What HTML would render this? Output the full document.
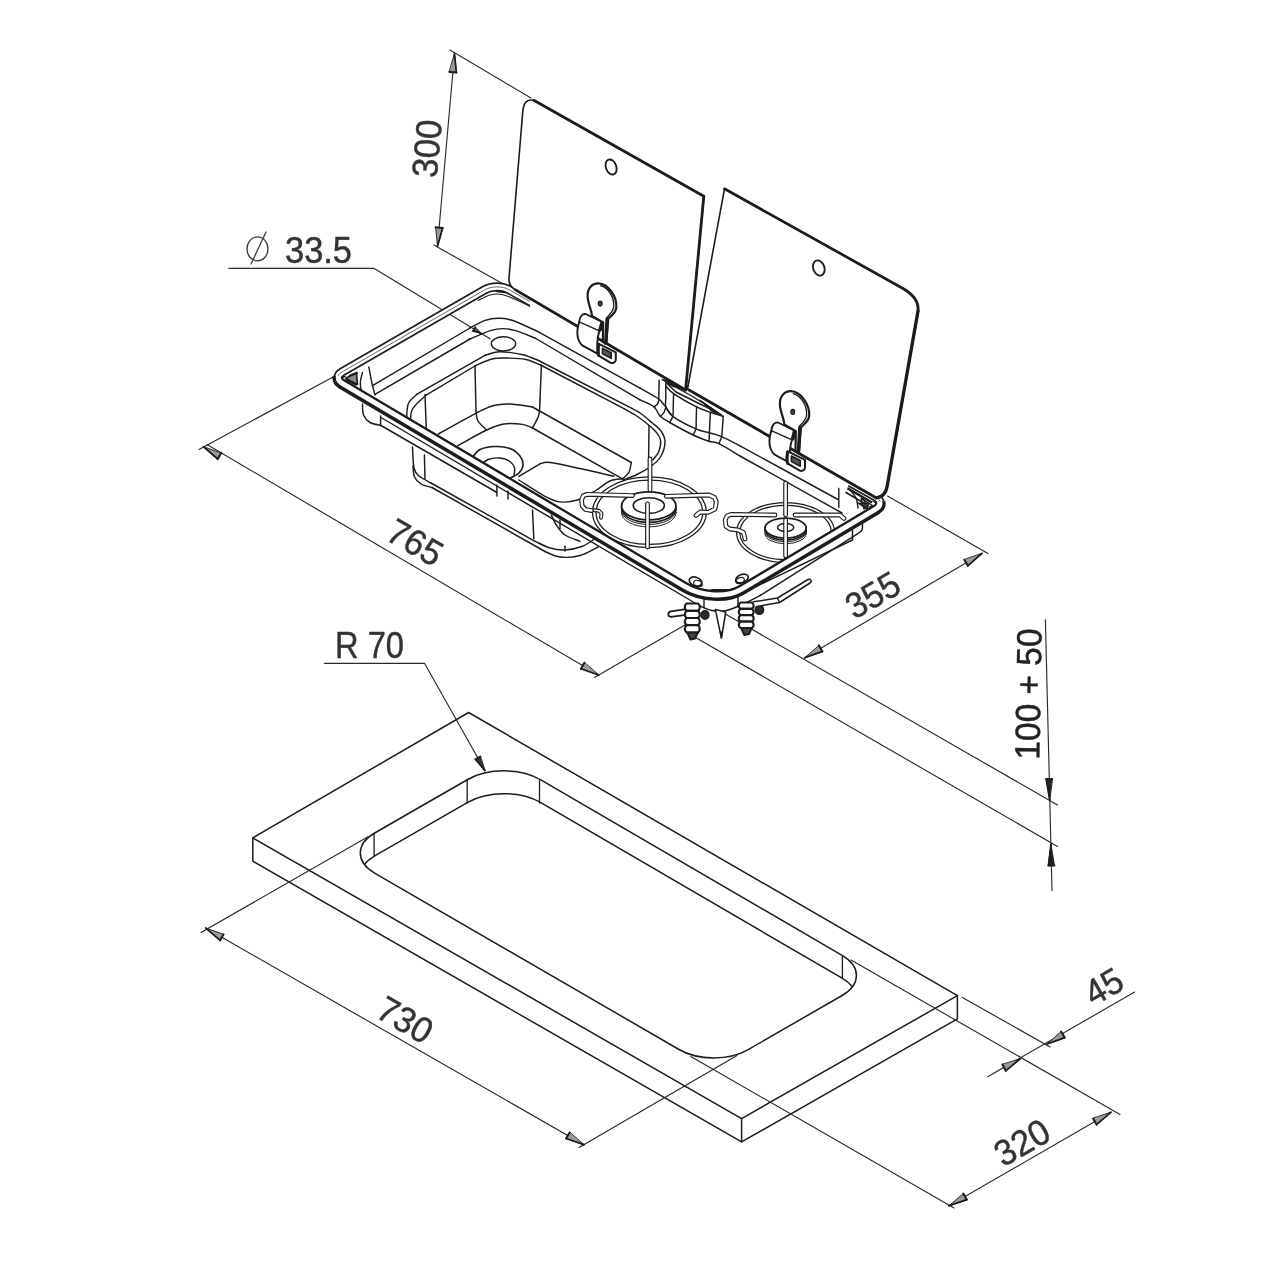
<!DOCTYPE html>
<html><head><meta charset="utf-8"><title>Sink hob dimensions</title>
<style>
html,body{margin:0;padding:0;background:#fff;}
body{width:1280px;height:1280px;overflow:hidden;font-family:"Liberation Sans",sans-serif;}
svg{display:block;font-family:"Liberation Sans",sans-serif;}
</style></head><body>
<svg width="1280" height="1280" viewBox="0 0 1280 1280" stroke-linecap="round" stroke-linejoin="round">
<rect width="1280" height="1280" fill="#fff"/>
<filter id="gaa" x="-20%" y="-20%" width="140%" height="140%"><feOffset dx="0" dy="0"/></filter>
<path d="M252.8,837.9 L468.6,712.5 L957.4,995.6 L741.6,1118.6 Z" stroke="#1c1c1c" stroke-width="1.5" fill="none" />
<path d="M252.8,837.9 L252.8,861.2 L741.6,1141.9 L957.4,1018.9 L957.4,995.6" stroke="#1c1c1c" stroke-width="1.5" fill="none" />
<line x1="741.6" y1="1118.6" x2="741.6" y2="1141.9" stroke="#1c1c1c" stroke-width="1.5" />
<clipPath id="cut">
<path d="M374.6,873.1 C355.5,862.0 355.5,844.1 374.7,833.0 L467.7,779.5 C487.8,767.9 520.3,768.0 540.4,779.6 L842.1,955.4 C861.2,966.5 861.2,984.4 842.1,995.5 L748.2,1049.6 C729.1,1060.7 698.1,1060.6 679.0,1049.5 Z" stroke="none" stroke-width="0" fill="#000" />
</clipPath>
<path d="M374.6,873.1 C355.5,862.0 355.5,844.1 374.7,833.0 L467.7,779.5 C487.8,767.9 520.3,768.0 540.4,779.6 L842.1,955.4 C861.2,966.5 861.2,984.4 842.1,995.5 L748.2,1049.6 C729.1,1060.7 698.1,1060.6 679.0,1049.5 Z" stroke="#1c1c1c" stroke-width="1.5" fill="none" />
<g clip-path="url(#cut)">
<path d="M374.6,895.9 C355.5,884.8 355.5,866.9 374.7,855.8 L467.7,802.3 C487.8,790.7 520.3,790.8 540.4,802.4 L842.1,978.2 C861.2,989.3 861.2,1007.2 842.1,1018.3 L748.2,1072.4 C729.1,1083.5 698.1,1083.4 679.0,1072.3 Z" stroke="#1c1c1c" stroke-width="1.5" fill="none" />
</g>
<line x1="374.1" y1="833.4" x2="374.1" y2="856.0" stroke="#1c1c1c" stroke-width="1.3" />
<line x1="467.2" y1="779.5" x2="467.2" y2="802.9" stroke="#1c1c1c" stroke-width="1.3" />
<line x1="539.5" y1="780.5" x2="539.5" y2="802.9" stroke="#1c1c1c" stroke-width="1.3" />
<line x1="842.4" y1="955.9" x2="842.4" y2="978.2" stroke="#1c1c1c" stroke-width="1.3" />
<line x1="368.0" y1="836.8" x2="201.0" y2="932.5" stroke="#2a2a2a" stroke-width="1.15" />
<line x1="737.0" y1="1055.5" x2="579.0" y2="1147.5" stroke="#2a2a2a" stroke-width="1.15" />
<line x1="205.8" y1="928.1" x2="583.9" y2="1144.7" stroke="#2a2a2a" stroke-width="1.15" />
<polygon points="205.8,928.1 223.6,934.3 220.1,940.3" fill="#9a9a9a" stroke="#1c1c1c" stroke-width="0.9"/>
<line x1="223.6" y1="934.3" x2="220.1" y2="940.3" stroke="#1c1c1c" stroke-width="2.0"/>
<line x1="220.1" y1="940.3" x2="205.8" y2="928.1" stroke="#1c1c1c" stroke-width="1.7"/>
<polygon points="583.9,1144.7 566.1,1138.5 569.6,1132.5" fill="#9a9a9a" stroke="#1c1c1c" stroke-width="0.9"/>
<line x1="566.1" y1="1138.5" x2="569.6" y2="1132.5" stroke="#1c1c1c" stroke-width="2.0"/>
<line x1="566.1" y1="1138.5" x2="583.9" y2="1144.7" stroke="#1c1c1c" stroke-width="1.7"/>
<g filter="url(#gaa)"><text x="405.3" y="1032.4" font-size="36" text-anchor="middle" fill="#333" transform="rotate(30 405.3 1019.5)" textLength="57.5" lengthAdjust="spacingAndGlyphs" stroke="#333" stroke-width="0.45">730</text></g>
<line x1="690.8" y1="1056.4" x2="954.0" y2="1208.0" stroke="#2a2a2a" stroke-width="1.15" />
<line x1="851.0" y1="960.0" x2="1120.0" y2="1114.5" stroke="#2a2a2a" stroke-width="1.15" />
<line x1="949.0" y1="1205.8" x2="1110.9" y2="1112.3" stroke="#2a2a2a" stroke-width="1.15" />
<polygon points="949.0,1205.8 963.3,1193.5 966.8,1199.6" fill="#9a9a9a" stroke="#1c1c1c" stroke-width="0.9"/>
<line x1="963.3" y1="1193.5" x2="966.8" y2="1199.6" stroke="#1c1c1c" stroke-width="2.0"/>
<line x1="966.8" y1="1199.6" x2="949.0" y2="1205.8" stroke="#1c1c1c" stroke-width="1.7"/>
<polygon points="1110.9,1112.3 1096.6,1124.6 1093.1,1118.5" fill="#9a9a9a" stroke="#1c1c1c" stroke-width="0.9"/>
<line x1="1096.6" y1="1124.6" x2="1093.1" y2="1118.5" stroke="#1c1c1c" stroke-width="2.0"/>
<line x1="1096.6" y1="1124.6" x2="1110.9" y2="1112.3" stroke="#1c1c1c" stroke-width="1.7"/>
<g filter="url(#gaa)"><text x="1021.8" y="1154.9" font-size="36" text-anchor="middle" fill="#333" transform="rotate(-30 1021.8 1142.0)" textLength="57.5" lengthAdjust="spacingAndGlyphs" stroke="#333" stroke-width="0.45">320</text></g>
<line x1="962.4" y1="997.4" x2="1050.0" y2="1047.0" stroke="#2a2a2a" stroke-width="1.15" />
<line x1="987.7" y1="1076.7" x2="1134.6" y2="992.0" stroke="#2a2a2a" stroke-width="1.15" />
<polygon points="1020.3,1058.8 1005.8,1070.8 1002.4,1064.6" fill="#9a9a9a" stroke="#1c1c1c" stroke-width="0.9"/>
<line x1="1005.8" y1="1070.8" x2="1002.4" y2="1064.6" stroke="#1c1c1c" stroke-width="2.0"/>
<line x1="1005.8" y1="1070.8" x2="1020.3" y2="1058.8" stroke="#1c1c1c" stroke-width="1.7"/>
<polygon points="1047.0,1044.0 1061.1,1031.5 1064.7,1037.6" fill="#9a9a9a" stroke="#1c1c1c" stroke-width="0.9"/>
<line x1="1061.1" y1="1031.5" x2="1064.7" y2="1037.6" stroke="#1c1c1c" stroke-width="2.0"/>
<line x1="1064.7" y1="1037.6" x2="1047.0" y2="1044.0" stroke="#1c1c1c" stroke-width="1.7"/>
<g filter="url(#gaa)"><text x="1103.5" y="999.0" font-size="36" text-anchor="middle" fill="#333" transform="rotate(-30 1103.5 986.1)" textLength="38" lengthAdjust="spacingAndGlyphs" stroke="#333" stroke-width="0.45">45</text></g>
<path d="M324.4,663.3 L424.5,663.3 L485.0,770.6" stroke="#2a2a2a" stroke-width="1.15" fill="none" />
<polygon points="485.0,770.6 475.4,759.3 480.3,756.6" fill="#333" stroke="#1c1c1c" stroke-width="0.9"/>
<line x1="475.4" y1="759.3" x2="480.3" y2="756.6" stroke="#1c1c1c" stroke-width="2.0"/>
<line x1="475.4" y1="759.3" x2="485.0" y2="770.6" stroke="#1c1c1c" stroke-width="1.7"/>
<g filter="url(#gaa)"><text x="369.5" y="657.9" font-size="36" text-anchor="middle" fill="#333" textLength="69" lengthAdjust="spacingAndGlyphs" stroke="#333" stroke-width="0.45">R 70</text></g>
<line x1="1045.4" y1="619.7" x2="1052.0" y2="890.4" stroke="#2a2a2a" stroke-width="1.15" />
<line x1="725.0" y1="613.8" x2="1057.5" y2="805.0" stroke="#2a2a2a" stroke-width="1.15" />
<line x1="693.0" y1="636.0" x2="1057.5" y2="846.5" stroke="#2a2a2a" stroke-width="1.15" />
<polygon points="1049.7,800.0 1046.2,779.1 1052.2,778.9" fill="#222" stroke="#1c1c1c" stroke-width="0.9"/>
<line x1="1046.2" y1="779.1" x2="1052.2" y2="778.9" stroke="#1c1c1c" stroke-width="2.0"/>
<line x1="1046.2" y1="779.1" x2="1049.7" y2="800.0" stroke="#1c1c1c" stroke-width="1.7"/>
<polygon points="1051.0,844.5 1054.5,865.4 1048.5,865.6" fill="#222" stroke="#1c1c1c" stroke-width="0.9"/>
<line x1="1054.5" y1="865.4" x2="1048.5" y2="865.6" stroke="#1c1c1c" stroke-width="2.0"/>
<line x1="1048.5" y1="865.6" x2="1051.0" y2="844.5" stroke="#1c1c1c" stroke-width="1.7"/>
<g filter="url(#gaa)"><text x="1028.0" y="706.5" font-size="35" text-anchor="middle" fill="#222" transform="rotate(-89 1028.0 694.0)" textLength="131" lengthAdjust="spacingAndGlyphs" stroke="#222" stroke-width="0.45">100 + 50</text></g>
<line x1="207.0" y1="444.5" x2="598.7" y2="675.0" stroke="#2a2a2a" stroke-width="1.15" />
<line x1="199.0" y1="449.5" x2="334.0" y2="376.5" stroke="#2a2a2a" stroke-width="1.15" />
<line x1="594.5" y1="677.5" x2="690.0" y2="622.0" stroke="#2a2a2a" stroke-width="1.15" />
<polygon points="203.4,446.7 221.2,452.9 217.7,459.0" fill="#9a9a9a" stroke="#1c1c1c" stroke-width="0.9"/>
<line x1="221.2" y1="452.9" x2="217.7" y2="459.0" stroke="#1c1c1c" stroke-width="2.0"/>
<line x1="217.7" y1="459.0" x2="203.4" y2="446.7" stroke="#1c1c1c" stroke-width="1.7"/>
<polygon points="598.7,675.0 580.9,668.8 584.4,662.7" fill="#9a9a9a" stroke="#1c1c1c" stroke-width="0.9"/>
<line x1="580.9" y1="668.8" x2="584.4" y2="662.7" stroke="#1c1c1c" stroke-width="2.0"/>
<line x1="580.9" y1="668.8" x2="598.7" y2="675.0" stroke="#1c1c1c" stroke-width="1.7"/>
<g filter="url(#gaa)"><text x="415.4" y="554.9" font-size="36" text-anchor="middle" fill="#333" transform="rotate(30 415.4 542.0)" textLength="57.5" lengthAdjust="spacingAndGlyphs" stroke="#333" stroke-width="0.45">765</text></g>
<line x1="887.5" y1="496.0" x2="988.0" y2="553.5" stroke="#2a2a2a" stroke-width="1.15" />
<line x1="982.0" y1="553.4" x2="804.7" y2="657.8" stroke="#2a2a2a" stroke-width="1.15" />
<polygon points="982.0,553.4 967.8,565.8 964.3,559.8" fill="#9a9a9a" stroke="#1c1c1c" stroke-width="0.9"/>
<line x1="967.8" y1="565.8" x2="964.3" y2="559.8" stroke="#1c1c1c" stroke-width="2.0"/>
<line x1="967.8" y1="565.8" x2="982.0" y2="553.4" stroke="#1c1c1c" stroke-width="1.7"/>
<polygon points="804.7,657.8 818.9,645.4 822.4,651.4" fill="#9a9a9a" stroke="#1c1c1c" stroke-width="0.9"/>
<line x1="818.9" y1="645.4" x2="822.4" y2="651.4" stroke="#1c1c1c" stroke-width="2.0"/>
<line x1="822.4" y1="651.4" x2="804.7" y2="657.8" stroke="#1c1c1c" stroke-width="1.7"/>
<g filter="url(#gaa)"><text x="872.5" y="607.5" font-size="36" text-anchor="middle" fill="#333" transform="rotate(-30 872.5 594.6)" textLength="56.5" lengthAdjust="spacingAndGlyphs" stroke="#333" stroke-width="0.45">355</text></g>
<line x1="454.5" y1="53.8" x2="437.5" y2="246.0" stroke="#2a2a2a" stroke-width="1.15" />
<line x1="450.0" y1="50.0" x2="531.0" y2="98.0" stroke="#2a2a2a" stroke-width="1.15" />
<line x1="433.8" y1="245.0" x2="505.0" y2="285.0" stroke="#2a2a2a" stroke-width="1.15" />
<polygon points="454.5,53.8 456.4,72.5 449.4,71.9" fill="#9a9a9a" stroke="#1c1c1c" stroke-width="0.9"/>
<line x1="456.4" y1="72.5" x2="449.4" y2="71.9" stroke="#1c1c1c" stroke-width="2.0"/>
<line x1="456.4" y1="72.5" x2="454.5" y2="53.8" stroke="#1c1c1c" stroke-width="1.7"/>
<polygon points="437.5,246.0 435.6,227.3 442.6,227.9" fill="#9a9a9a" stroke="#1c1c1c" stroke-width="0.9"/>
<line x1="435.6" y1="227.3" x2="442.6" y2="227.9" stroke="#1c1c1c" stroke-width="2.0"/>
<line x1="442.6" y1="227.9" x2="437.5" y2="246.0" stroke="#1c1c1c" stroke-width="1.7"/>
<g filter="url(#gaa)"><text x="426.5" y="161.4" font-size="36" text-anchor="middle" fill="#333" transform="rotate(-85 426.5 148.5)" textLength="58" lengthAdjust="spacingAndGlyphs" stroke="#333" stroke-width="0.45">300</text></g>
<path d="M228.8,268.3 L373.8,268.3 L490.0,338.8" stroke="#2a2a2a" stroke-width="1.15" fill="none" />
<polygon points="481.0,333.3 473.1,330.9 475.2,327.4" fill="#555" stroke="#1c1c1c" stroke-width="0.9"/>
<line x1="473.1" y1="330.9" x2="475.2" y2="327.4" stroke="#1c1c1c" stroke-width="2.0"/>
<line x1="473.1" y1="330.9" x2="481.0" y2="333.3" stroke="#1c1c1c" stroke-width="1.7"/>
<ellipse cx="257.5" cy="248.8" rx="10.5" ry="12.0" stroke="#3a3a3a" stroke-width="1.3" fill="none"/>
<line x1="251.0" y1="264.0" x2="266.0" y2="232.0" stroke="#3a3a3a" stroke-width="1.3" />
<g filter="url(#gaa)"><text x="318.5" y="262.7" font-size="37" text-anchor="middle" fill="#333" textLength="67" lengthAdjust="spacingAndGlyphs" stroke="#333" stroke-width="0.45">33.5</text></g>
<line x1="381.0" y1="417.5" x2="700.0" y2="606.0" stroke="#1c1c1c" stroke-width="1.45" />
<path d="M362.5,404.0 C362.7,405.8 362.2,411.9 363.5,415.0 C364.8,418.1 367.1,420.8 370.0,422.5 C372.9,424.2 379.2,425.0 381.0,425.5 " stroke="#1c1c1c" stroke-width="1.45" fill="none" />
<line x1="380.6" y1="416.0" x2="380.6" y2="425.0" stroke="#1c1c1c" stroke-width="1.45" />
<line x1="381.0" y1="425.5" x2="497.0" y2="492.5" stroke="#1c1c1c" stroke-width="1.45" />
<path d="M412.5,447.0 C412.8,450.5 412.9,463.2 414.0,468.0 C415.1,472.8 416.2,473.5 419.0,476.0 C421.8,478.5 429.0,481.8 431.0,483.0 " stroke="#1c1c1c" stroke-width="1.45" fill="none" />
<line x1="424.4" y1="455.0" x2="425.0" y2="479.0" stroke="#1c1c1c" stroke-width="1.45" />
<line x1="431.0" y1="483.0" x2="535.0" y2="541.3" stroke="#1c1c1c" stroke-width="1.45" />
<line x1="432.0" y1="487.5" x2="545.0" y2="551.5" stroke="#1c1c1c" stroke-width="1.45" />
<path d="M413.0,466.0 C413.2,467.8 413.2,474.0 414.5,477.0 C415.8,480.0 418.1,482.2 421.0,484.0 C423.9,485.8 430.2,486.9 432.0,487.5 " stroke="#1c1c1c" stroke-width="1.45" fill="none" />
<path d="M535.0,541.3 C537.5,542.4 545.0,546.5 550.0,548.0 C555.0,549.5 559.6,550.3 565.0,550.0 C570.4,549.7 577.3,548.3 582.5,546.3 C587.7,544.3 593.8,539.4 596.0,538.0 " stroke="#1c1c1c" stroke-width="1.45" fill="none" />
<path d="M545.0,551.5 C547.5,552.4 554.2,556.3 560.0,557.0 C565.8,557.7 573.7,557.2 580.0,555.5 C586.3,553.8 595.0,548.4 598.0,547.0 " stroke="#1c1c1c" stroke-width="1.45" fill="none" />
<line x1="532.5" y1="510.0" x2="533.8" y2="538.8" stroke="#1c1c1c" stroke-width="1.45" />
<path d="M551.3,515.0 C552.1,516.7 554.0,521.7 556.3,525.0 C558.6,528.3 561.0,532.3 565.0,535.0 C569.0,537.7 577.5,540.2 580.0,541.3 " stroke="#1c1c1c" stroke-width="1.45" fill="none" />
<line x1="560.0" y1="520.0" x2="560.0" y2="529.0" stroke="#1c1c1c" stroke-width="1.45" />
<line x1="565.0" y1="546.3" x2="565.0" y2="551.0" stroke="#1c1c1c" stroke-width="1.45" />
<line x1="496.9" y1="485.0" x2="496.9" y2="496.0" stroke="#1c1c1c" stroke-width="1.45" />
<line x1="508.0" y1="491.0" x2="508.0" y2="499.0" stroke="#1c1c1c" stroke-width="1.45" />
<path d="M700.0,606.0 C702.0,606.8 708.0,609.7 712.0,610.5 C716.0,611.3 719.3,611.8 724.0,611.0 C728.7,610.2 733.8,608.2 740.0,605.5 C746.2,602.8 757.5,596.8 761.0,595.0 " stroke="#1c1c1c" stroke-width="1.45" fill="none" />
<line x1="704.0" y1="598.0" x2="704.0" y2="607.5" stroke="#1c1c1c" stroke-width="1.45" />
<line x1="738.0" y1="597.0" x2="738.0" y2="606.0" stroke="#1c1c1c" stroke-width="1.45" />
<line x1="761.0" y1="595.0" x2="857.5" y2="533.8" stroke="#1c1c1c" stroke-width="1.45" />
<path d="M857.5,533.8 C858.2,533.2 861.2,532.1 862.0,530.0 C862.8,527.9 862.4,522.5 862.5,521.0 " stroke="#1c1c1c" stroke-width="1.45" fill="none" />
<line x1="745.0" y1="592.0" x2="852.5" y2="540.0" stroke="#1c1c1c" stroke-width="1.45" />
<line x1="852.5" y1="530.0" x2="852.5" y2="540.0" stroke="#1c1c1c" stroke-width="1.45" />
<line x1="372.5" y1="385.6" x2="470.0" y2="328.0" stroke="#1c1c1c" stroke-width="1.45" />
<line x1="375.0" y1="394.3" x2="470.0" y2="339.0" stroke="#1c1c1c" stroke-width="1.45" />
<path d="M368.8,366.9 C369.1,368.4 370.0,373.3 370.5,376.0 C371.0,378.7 371.1,379.8 371.9,383.0 C372.6,386.2 374.5,393.0 375.0,395.0 " stroke="#1c1c1c" stroke-width="1.45" fill="none" />
<path d="M362.5,372.5 C362.2,373.9 360.7,378.1 360.5,381.0 C360.3,383.9 360.4,387.8 361.3,390.0 C362.2,392.2 365.2,393.3 366.0,394.0 " stroke="#1c1c1c" stroke-width="1.45" fill="none" />
<path d="M470.0,328.0 C472.5,326.7 480.5,322.0 485.2,320.4 C489.9,318.8 493.5,318.3 498.0,318.3 C502.5,318.3 505.4,318.1 512.0,320.3 C518.6,322.5 533.2,329.5 537.5,331.3 " stroke="#1c1c1c" stroke-width="1.45" fill="none" />
<line x1="537.5" y1="331.3" x2="640.0" y2="388.1" stroke="#1c1c1c" stroke-width="1.45" />
<path d="M470.0,339.0 C473.4,337.6 484.8,332.3 490.3,330.6 C495.8,328.9 498.8,328.6 503.0,328.6 C507.2,328.6 510.4,329.0 515.7,330.6 C521.0,332.2 531.8,336.8 535.0,338.0 " stroke="#1c1c1c" stroke-width="1.45" fill="none" />
<line x1="535.0" y1="338.0" x2="640.0" y2="399.8" stroke="#1c1c1c" stroke-width="1.45" />
<ellipse cx="503.5" cy="343.8" rx="12.2" ry="7.1" stroke="#1c1c1c" stroke-width="1.45" fill="none"/>
<line x1="740.0" y1="445.9" x2="838.0" y2="499.5" stroke="#1c1c1c" stroke-width="1.45" />
<line x1="740.0" y1="456.0" x2="842.0" y2="513.0" stroke="#1c1c1c" stroke-width="1.45" />
<path d="M406.5,423.0 C406.8,419.8 406.4,408.9 408.2,404.0 C410.0,399.1 415.9,395.5 417.5,393.8 " stroke="#1c1c1c" stroke-width="1.45" fill="none" />
<line x1="417.5" y1="393.8" x2="485.0" y2="355.3" stroke="#1c1c1c" stroke-width="1.45" />
<path d="M485.0,355.3 C487.0,354.8 492.9,352.5 497.0,352.0 C501.1,351.5 504.9,351.9 509.4,352.4 C513.9,352.9 519.3,353.7 524.0,355.0 C528.7,356.3 535.2,359.2 537.5,360.0 " stroke="#1c1c1c" stroke-width="1.45" fill="none" />
<line x1="537.5" y1="360.0" x2="628.0" y2="406.3" stroke="#1c1c1c" stroke-width="1.45" />
<path d="M410.5,424.0 C410.8,421.5 409.8,413.9 412.5,409.0 C415.2,404.1 424.2,397.2 426.5,394.8 " stroke="#1c1c1c" stroke-width="1.45" fill="none" />
<line x1="426.5" y1="394.8" x2="475.0" y2="366.0" stroke="#1c1c1c" stroke-width="1.45" />
<path d="M475.0,366.0 C477.8,364.8 486.3,360.3 492.0,359.0 C497.7,357.7 503.7,358.0 509.4,358.1 C515.1,358.2 520.8,358.4 526.0,359.5 C531.2,360.6 538.2,364.1 540.6,365.0 " stroke="#1c1c1c" stroke-width="1.45" fill="none" />
<line x1="540.6" y1="365.0" x2="624.0" y2="408.7" stroke="#1c1c1c" stroke-width="1.45" />
<line x1="425.0" y1="394.5" x2="426.3" y2="430.0" stroke="#1c1c1c" stroke-width="1.45" />
<line x1="475.0" y1="366.0" x2="476.0" y2="411.0" stroke="#1c1c1c" stroke-width="1.45" />
<line x1="541.4" y1="365.0" x2="540.0" y2="400.0" stroke="#1c1c1c" stroke-width="1.45" />
<path d="M438.3,434.0 C444.7,430.5 467.4,417.6 476.6,412.8 C485.9,408.1 488.2,407.0 493.8,405.5 C499.4,404.0 503.6,403.8 510.0,404.0 C516.5,404.2 528.8,406.5 532.5,407.0 " stroke="#1c1c1c" stroke-width="1.45" fill="none" />
<line x1="532.5" y1="407.0" x2="631.3" y2="462.5" stroke="#1c1c1c" stroke-width="1.45" />
<path d="M457.8,445.6 C462.6,443.0 479.0,433.6 486.7,430.0 C494.4,426.4 497.8,424.9 503.8,424.0 C509.8,423.1 517.7,423.7 522.5,424.4 C527.3,425.1 530.8,427.4 532.5,428.0 " stroke="#1c1c1c" stroke-width="1.45" fill="none" />
<line x1="532.5" y1="428.0" x2="622.5" y2="478.8" stroke="#1c1c1c" stroke-width="1.45" />
<path d="M476.0,411.0 C476.3,412.7 476.2,417.8 478.0,421.0 C479.8,424.2 485.2,428.5 486.7,430.0 " stroke="#1c1c1c" stroke-width="1.45" fill="none" />
<path d="M540.0,400.0 C539.8,402.5 540.0,410.3 538.8,415.0 C537.5,419.7 533.5,425.8 532.5,428.0 " stroke="#1c1c1c" stroke-width="1.45" fill="none" />
<path d="M631.3,462.5 C630.9,464.2 630.3,469.8 628.8,472.5 C627.3,475.2 623.5,477.8 622.5,478.8 " stroke="#1c1c1c" stroke-width="1.45" fill="none" />
<path d="M622.5,478.8 C620.4,479.2 614.6,479.0 610.0,481.0 C605.4,483.0 600.4,487.8 595.0,491.0 C589.6,494.2 583.3,498.2 577.5,500.0 C571.7,501.8 565.4,502.5 560.0,501.9 C554.6,501.3 551.9,499.9 545.0,496.3 C538.1,492.7 523.2,482.7 518.8,480.0 " stroke="#1c1c1c" stroke-width="1.45" fill="none" />
<path d="M628.0,406.3 C630.0,407.4 636.0,410.3 640.0,413.0 C644.0,415.7 648.2,419.5 651.7,422.5 C655.2,425.5 658.8,427.8 661.0,431.0 C663.2,434.2 665.1,437.7 665.0,442.0 C664.9,446.3 663.0,452.8 660.5,457.0 C658.0,461.2 653.9,464.1 650.0,467.0 C646.1,469.9 641.6,472.3 637.0,474.5 C632.4,476.7 624.9,479.1 622.5,480.0 " stroke="#1c1c1c" stroke-width="1.45" fill="none" />
<path d="M624.0,408.7 C626.0,409.8 632.0,412.9 636.0,415.5 C640.0,418.1 644.7,421.8 648.0,424.5 C651.3,427.2 653.9,429.4 656.0,432.0 C658.1,434.6 660.0,436.8 660.5,440.0 C661.0,443.2 660.2,447.7 659.0,451.0 C657.8,454.3 654.0,458.5 653.0,460.0 " stroke="#1c1c1c" stroke-width="1.45" fill="none" />
<line x1="649.0" y1="426.0" x2="648.6" y2="460.0" stroke="#1c1c1c" stroke-width="1.45" />
<path d="M472.0,458.0 C473.3,456.6 476.2,451.4 480.0,449.5 C483.8,447.6 490.0,446.7 495.0,446.5 C500.0,446.3 505.8,446.9 510.0,448.5 C514.2,450.1 517.8,453.2 520.0,456.0 C522.2,458.8 523.2,462.2 523.0,465.0 C522.8,467.8 521.2,470.8 519.0,473.0 C516.8,475.2 511.5,477.2 510.0,478.0 " stroke="#1c1c1c" stroke-width="1.6" fill="none" />
<path d="M481.0,465.0 C482.2,464.1 484.8,460.7 488.0,459.5 C491.2,458.3 496.3,457.7 500.0,458.0 C503.7,458.3 507.6,459.8 510.0,461.5 C512.4,463.2 513.8,465.8 514.5,468.0 C515.2,470.2 514.1,473.8 514.0,475.0 " stroke="#1c1c1c" stroke-width="1.45" fill="none" />
<line x1="518.8" y1="476.3" x2="540.0" y2="463.8" stroke="#1c1c1c" stroke-width="1.45" />
<path d="M540.0,463.8 C541.7,463.6 543.3,461.7 550.0,462.5 C556.7,463.3 569.4,466.2 580.0,468.5 C590.6,470.8 608.2,475.0 613.8,476.3 " stroke="#1c1c1c" stroke-width="1.45" fill="none" />
<line x1="838.8" y1="484.5" x2="838.8" y2="507.5" stroke="#1c1c1c" stroke-width="1.45" />
<path d="M850.0,490.0 C851.0,491.3 854.7,495.0 856.0,498.0 C857.3,501.0 857.7,506.3 858.0,508.0 " stroke="#1c1c1c" stroke-width="1.45" fill="none" />
<path d="M862.0,497.0 C862.7,498.2 865.0,501.7 866.0,504.0 C867.0,506.3 867.7,509.8 868.0,511.0 " stroke="#1c1c1c" stroke-width="1.45" fill="none" />
<path d="M861,498.5 L872.5,505.5 L864,509 Z" stroke="#1c1c1c" stroke-width="1.3" fill="none" />
<line x1="838.5" y1="483.0" x2="871.0" y2="502.0" stroke="#1c1c1c" stroke-width="2.6" />
<line x1="846.0" y1="492.5" x2="868.0" y2="505.5" stroke="#1c1c1c" stroke-width="1.6" />
<path d="M858,503 L869,503.5 L866,508.5 Z" stroke="#1c1c1c" stroke-width="1.2" fill="#333" />
<path d="M345.5,378.5 L356.5,372.5 L357.5,384.5 Z" stroke="#1c1c1c" stroke-width="1.6" fill="#8a8a8a" />
<line x1="347.0" y1="380.0" x2="356.0" y2="384.5" stroke="#1c1c1c" stroke-width="2.2" />
<line x1="350.0" y1="375.5" x2="357.0" y2="373.0" stroke="#1c1c1c" stroke-width="2.0" />
<path d="M474.0,296.0 C476.3,295.1 483.7,291.6 488.0,290.5 C492.3,289.4 495.7,288.9 500.0,289.5 C504.3,290.1 511.7,293.2 514.0,294.0 " stroke="#1c1c1c" stroke-width="1.45" fill="none" />
<path d="M478.0,300.5 C480.0,299.6 486.0,296.0 490.0,295.0 C494.0,294.0 497.0,293.4 502.0,294.5 C507.0,295.6 512.8,298.2 520.0,301.5 C527.2,304.8 540.8,311.9 545.0,314.0 " stroke="#1c1c1c" stroke-width="1.2" fill="none" />
<line x1="497.0" y1="291.0" x2="505.0" y2="292.0" stroke="#1c1c1c" stroke-width="2.6" />
<path d="M520.0,297.0 C522.5,298.3 530.3,302.2 535.0,305.0 C539.7,307.8 545.8,312.5 548.0,314.0 " stroke="#1c1c1c" stroke-width="2.0" fill="none" />
<ellipse cx="695.5" cy="581.5" rx="6.5" ry="4.2" stroke="#1c1c1c" stroke-width="1.7" fill="none" transform="rotate(20 695.5 581.5)"/>
<ellipse cx="698.0" cy="583.5" rx="4.5" ry="3.0" stroke="#1c1c1c" stroke-width="1.2" fill="none" transform="rotate(20 698.0 583.5)"/>
<ellipse cx="742.0" cy="578.5" rx="6.5" ry="4.0" stroke="#1c1c1c" stroke-width="1.7" fill="none" transform="rotate(-20 742.0 578.5)"/>
<ellipse cx="740.0" cy="580.5" rx="4.5" ry="2.8" stroke="#1c1c1c" stroke-width="1.2" fill="none" transform="rotate(-20 740.0 580.5)"/>
<line x1="712.0" y1="590.0" x2="728.0" y2="590.0" stroke="#1c1c1c" stroke-width="2.2" />
<ellipse cx="649.4" cy="512.2" rx="56.9" ry="35.3" stroke="#1c1c1c" stroke-width="1.25" fill="none"/>
<ellipse cx="649.4" cy="512.2" rx="53.4" ry="32.2" stroke="#1c1c1c" stroke-width="1.25" fill="none"/>
<ellipse cx="648.8" cy="512.9" rx="27.2" ry="14.0" stroke="#1c1c1c" stroke-width="1.0" fill="#fff"/>
<ellipse cx="648.8" cy="510.5" rx="27.2" ry="14.0" stroke="#1c1c1c" stroke-width="1.0" fill="#fff"/>
<ellipse cx="648.8" cy="508.3" rx="27.2" ry="14.0" stroke="#1c1c1c" stroke-width="1.7" fill="#fff"/>
<ellipse cx="648.8" cy="505.9" rx="27.2" ry="14.0" stroke="#1c1c1c" stroke-width="1.8" fill="#fff"/>
<ellipse cx="648.8" cy="505.6" rx="15.6" ry="7.8" stroke="#1c1c1c" stroke-width="1.6" fill="#fff"/>
<path d="M650.0,490.0 L650.0,459.0" stroke="#1c1c1c" stroke-width="4.8" fill="none" />
<path d="M650.0,490.0 L650.0,459.0" stroke="#fff" stroke-width="2.5" fill="none" />
<path d="M632.5,495.6 L587.0,494.3 L583.2,495.8 L581.6,500.0 L582.2,506.0 L585.5,509.5 L591.5,510.6" stroke="#1c1c1c" stroke-width="4.8" fill="none" />
<path d="M632.5,495.6 L587.0,494.3 L583.2,495.8 L581.6,500.0 L582.2,506.0 L585.5,509.5 L591.5,510.6" stroke="#fff" stroke-width="2.5" fill="none" />
<path d="M594.5,510.3 L599.0,510.8 L601.5,513.5 L601.0,517.8" stroke="#1c1c1c" stroke-width="3.9" fill="none" />
<path d="M594.5,510.3 L599.0,510.8 L601.5,513.5 L601.0,517.8" stroke="#fff" stroke-width="1.6" fill="none" />
<path d="M666.3,496.3 L709.0,495.0 L714.5,497.5 L716.3,502.0 L715.0,509.0 L708.0,512.3 L700.0,512.0 L696.0,515.5" stroke="#1c1c1c" stroke-width="4.8" fill="none" />
<path d="M666.3,496.3 L709.0,495.0 L714.5,497.5 L716.3,502.0 L715.0,509.0 L708.0,512.3 L700.0,512.0 L696.0,515.5" stroke="#fff" stroke-width="2.5" fill="none" />
<path d="M647.5,503.8 L647.5,547.0" stroke="#1c1c1c" stroke-width="4.8" fill="none" />
<path d="M647.5,503.8 L647.5,547.0" stroke="#fff" stroke-width="2.5" fill="none" />
<clipPath id="inrim"><polygon points="332.5,377.5 496.9,282.8 886.2,502.8 715.5,604.6"/></clipPath>
<g clip-path="url(#inrim)">
<ellipse cx="785.6" cy="532.5" rx="49.0" ry="30.0" stroke="#1c1c1c" stroke-width="1.25" fill="none"/>
<ellipse cx="785.6" cy="532.5" rx="45.8" ry="27.2" stroke="#1c1c1c" stroke-width="1.25" fill="none"/>
<ellipse cx="785.6" cy="533.7" rx="20.6" ry="10.0" stroke="#1c1c1c" stroke-width="1.0" fill="#fff"/>
<ellipse cx="785.6" cy="531.7" rx="20.6" ry="10.0" stroke="#1c1c1c" stroke-width="1.0" fill="#fff"/>
<ellipse cx="785.6" cy="530.0" rx="20.6" ry="10.0" stroke="#1c1c1c" stroke-width="1.7" fill="#fff"/>
<ellipse cx="785.6" cy="528.1" rx="20.6" ry="10.0" stroke="#1c1c1c" stroke-width="1.8" fill="#fff"/>
<ellipse cx="785.6" cy="527.5" rx="8.1" ry="4.0" stroke="#1c1c1c" stroke-width="1.5" fill="#fff"/>
<path d="M785.6,515.0 L785.6,483.0" stroke="#1c1c1c" stroke-width="4.8" fill="none" />
<path d="M785.6,515.0 L785.6,483.0" stroke="#fff" stroke-width="2.5" fill="none" />
<path d="M775.0,515.0 L731.0,514.4 L727.0,516.0 L725.2,520.0 L726.0,526.5 L730.0,529.0 L738.0,530.0 L743.5,532.5 L745.0,539.0" stroke="#1c1c1c" stroke-width="4.8" fill="none" />
<path d="M775.0,515.0 L731.0,514.4 L727.0,516.0 L725.2,520.0 L726.0,526.5 L730.0,529.0 L738.0,530.0 L743.5,532.5 L745.0,539.0" stroke="#fff" stroke-width="2.5" fill="none" />
<path d="M795.0,515.0 L840.0,515.0 L844.0,518.5" stroke="#1c1c1c" stroke-width="4.8" fill="none" />
<path d="M795.0,515.0 L840.0,515.0 L844.0,518.5" stroke="#fff" stroke-width="2.5" fill="none" />
<path d="M785.6,520.0 L785.6,556.0" stroke="#1c1c1c" stroke-width="4.8" fill="none" />
<path d="M785.6,520.0 L785.6,556.0" stroke="#fff" stroke-width="2.5" fill="none" />
</g>
<path d="M342.0,383.1 C336.7,380.0 336.8,375.0 342.0,372.0 L484.8,289.8 C491.5,285.9 502.4,285.9 509.1,289.7 L875.8,496.9 C881.5,500.2 881.6,505.6 875.9,508.9 L741.3,589.2 C727.0,597.7 701.6,596.4 684.5,586.2 Z" stroke="#1c1c1c" stroke-width="9.2" fill="none" />
<path d="M342.0,383.1 C336.7,380.0 336.8,375.0 342.0,372.0 L484.8,289.8 C491.5,285.9 502.4,285.9 509.1,289.7 L875.8,496.9 C881.5,500.2 881.6,505.6 875.9,508.9 L741.3,589.2 C727.0,597.7 701.6,596.4 684.5,586.2 Z" stroke="#fff" stroke-width="5.8" fill="none" />
<path d="M342.0,383.1 C336.7,380.0 336.8,375.0 342.0,372.0 L484.8,289.8 C491.5,285.9 502.4,285.9 509.1,289.7 L875.8,496.9 C881.5,500.2 881.6,505.6 875.9,508.9 L741.3,589.2 C727.0,597.7 701.6,596.4 684.5,586.2 Z" stroke="#444" stroke-width="0.8" fill="none" />
<clipPath id="frontclip"><polygon points="300,376.0 348.5,376.0 870.2,501.3 905,501.3 905,640 300,640"/></clipPath>
<g clip-path="url(#frontclip)">
<path d="M341.6,384.0 C336.3,380.9 336.4,375.9 341.6,372.9 L484.8,290.7 C491.5,286.8 502.4,286.8 509.1,290.6 L876.2,497.8 C881.9,501.1 882.0,506.4 876.3,509.8 L741.3,590.2 C727.0,598.6 701.6,597.3 684.5,587.2 Z" stroke="#1c1c1c" stroke-width="10.4" fill="none" />
<path d="M342.2,383.3 C336.9,380.2 337.0,375.2 342.2,372.2 L484.8,289.8 C491.5,285.9 502.4,285.9 509.1,289.7 L875.6,497.1 C881.3,500.4 881.4,505.8 875.7,509.2 L741.3,589.4 C727.0,597.9 701.6,596.6 684.5,586.4 Z" stroke="#fff" stroke-width="5.0" fill="none" />
</g>
<path d="M530,296 L850,481 L846,492 L530,309.5 Z" stroke="none" stroke-width="0" fill="#fff" />
<path d="M533.8,100.3 L703.8,196.3 L685.6,390 L515,289.5 Q508.3,285.5 509,278 L522.8,111.3 Q524,98 533.8,100.3 Z" stroke="#1c1c1c" stroke-width="1.6" fill="#fff" />
<line x1="533.8" y1="100.3" x2="703.8" y2="196.3" stroke="#1c1c1c" stroke-width="2.7" />
<line x1="703.8" y1="196.3" x2="685.6" y2="390.0" stroke="#1c1c1c" stroke-width="2.8" />
<line x1="515.5" y1="289.8" x2="685.6" y2="390.0" stroke="#1c1c1c" stroke-width="2.7" />
<ellipse cx="611.1" cy="167.0" rx="5.2" ry="7.8" stroke="#1c1c1c" stroke-width="1.9" fill="none" transform="rotate(-20 611.1 167.0)"/>
<path d="M724.5,188.8 L903,288.5 Q919.5,298 918.3,312 L887.5,486 Q885.5,497.5 876,497.8 L687.5,389 Z" stroke="#1c1c1c" stroke-width="1.6" fill="#fff" />
<path d="M724.5,188.8 L903,288.5 Q919.5,298 918,311" stroke="#1c1c1c" stroke-width="2.7" fill="none" />
<path d="M918,311 L887.2,486 Q885.3,497.3 876,497.8" stroke="#1c1c1c" stroke-width="3.3" fill="none" />
<line x1="689.0" y1="390.0" x2="876.0" y2="497.8" stroke="#1c1c1c" stroke-width="2.8" />
<ellipse cx="818.8" cy="268.0" rx="5.6" ry="7.8" stroke="#1c1c1c" stroke-width="1.9" fill="none" transform="rotate(-20 818.8 268.0)"/>
<path d="M659.1,380.3 C659.1,382.2 659.0,388.6 658.9,392.0 C658.8,395.4 658.8,399.2 658.8,400.6 " stroke="#1c1c1c" stroke-width="1.45" fill="none" />
<path d="M665.8,382.7 C665.8,385.2 665.8,394.0 665.8,398.0 C665.8,402.0 664.9,404.1 665.8,406.9 C666.7,409.7 670.4,413.4 671.3,414.7 " stroke="#1c1c1c" stroke-width="1.45" fill="none" />
<path d="M673.6,393.6 C673.5,396.0 673.3,404.2 673.2,408.0 C673.1,411.8 673.4,413.9 672.8,416.3 C672.2,418.7 670.2,421.5 669.7,422.5 " stroke="#1c1c1c" stroke-width="1.45" fill="none" />
<path d="M696.6,406.9 C696.5,409.1 696.3,416.4 696.2,420.0 C696.1,423.6 696.4,426.3 695.9,428.8 C695.4,431.3 693.6,434.0 693.1,435.0 " stroke="#1c1c1c" stroke-width="1.45" fill="none" />
<path d="M710.3,413.1 C710.2,415.6 709.8,423.3 709.6,428.0 C709.4,432.7 709.2,439.1 709.1,441.3 " stroke="#1c1c1c" stroke-width="1.45" fill="none" />
<path d="M723.2,416.3 C723.1,418.2 722.7,424.6 722.4,428.0 C722.1,431.4 722.2,434.0 721.6,436.6 C721.0,439.2 719.4,442.4 718.9,443.6 " stroke="#1c1c1c" stroke-width="1.45" fill="none" />
<path d="M665.8,386.0 C667.1,387.3 668.5,390.1 673.6,393.6 C678.7,397.1 690.5,403.8 696.6,406.9 C702.7,410.0 705.9,410.7 710.3,412.3 C714.7,413.9 721.1,415.6 723.2,416.3 " stroke="#1c1c1c" stroke-width="1.45" fill="none" />
<path d="M640.0,388.1 C643.1,389.9 655.1,396.6 658.8,399.0 C662.4,401.4 660.8,401.2 662.0,402.5 C663.2,403.8 664.0,404.6 665.8,406.9 C667.6,409.2 667.8,412.6 672.8,416.3 C677.8,420.0 689.8,426.1 695.9,428.8 C702.0,431.5 704.8,431.4 709.1,432.7 C713.4,434.0 716.5,434.4 721.6,436.6 C726.8,438.8 736.9,444.3 740.0,445.9 " stroke="#1c1c1c" stroke-width="1.45" fill="none" />
<path d="M640.0,399.8 C642.3,401.0 650.6,404.1 654.0,406.9 C657.4,409.6 657.7,413.7 660.3,416.3 C662.9,418.9 664.2,419.4 669.7,422.5 C675.2,425.6 686.6,431.9 693.1,435.0 C699.6,438.1 704.5,439.9 708.8,441.3 C713.0,442.7 713.7,441.2 718.9,443.6 C724.1,446.1 736.5,453.9 740.0,456.0 " stroke="#1c1c1c" stroke-width="1.45" fill="none" />
<path d="M654.0,406.9 C654.6,406.4 656.7,405.1 657.5,404.0 C658.3,402.9 658.5,401.2 658.8,400.6 " stroke="#1c1c1c" stroke-width="1.45" fill="none" />
<path d="M660.3,416.3 C660.9,415.7 663.1,414.1 664.0,412.5 C664.9,410.9 665.5,407.8 665.8,406.9 " stroke="#1c1c1c" stroke-width="1.45" fill="none" />
<path d="M662,379.5 L668,380.5 L685,390.5 L672,386 Z" stroke="#1c1c1c" stroke-width="1.0" fill="#1c1c1c" />
<path d="M700,400 L722,415 L712,411.5 Z" stroke="#1c1c1c" stroke-width="1.0" fill="#1c1c1c" />
<path d="M668,383 L690,395 L712,408.5" stroke="#1c1c1c" stroke-width="1.3" fill="none" />
<path d="M667,383.5 L676,392 L700,404 L716,411.5" stroke="#1c1c1c" stroke-width="1.6" fill="none" />
<path d="M579.2,321.9 C579.7,316.4 582.2,313.6 585.7,314.0 L602.7,322.2 L599.4,330.9 C597.0,338.4 596.8,346.4 597.8,353.9 L582.2,345.4 C577.2,340.4 576.2,331.4 579.2,321.9 Z" stroke="#1c1c1c" stroke-width="1.9" fill="#fff" />
<path d="M579.2,321.9 L599.4,330.9" stroke="#1c1c1c" stroke-width="1.3" fill="none" />
<path d="M592.0,315.9 C591.5,309.7 588.0,304.0 587.6,296.5 C587.2,288.0 592.3,283.2 598.4,283.3 C608.3,283.8 617.2,296.5 616.3,307.8 C615.8,312.9 611.1,315.8 608.2,318.9 L606.3,343.4 L602.9,341.9 L603.2,322.4 Z" stroke="#1c1c1c" stroke-width="2.2" fill="#fff" />
<path d="M600.8,285.8 C607.8,287.1 614.4,297.0 613.7,306.8 C613.4,311.5 609.7,314.4 606.3,318.2" stroke="#1c1c1c" stroke-width="1.4" fill="none" />
<ellipse cx="600.2" cy="303.6" rx="1.9" ry="2.4" stroke="#1c1c1c" stroke-width="1.3" fill="#444"/>
<path d="M607.1,319.4 L605.7,343.4" stroke="#1c1c1c" stroke-width="3.4" fill="none" />
<path d="M601.9,322.9 L600.1,329.9" stroke="#1c1c1c" stroke-width="3.6" fill="none" />
<path d="M598.9,343.8 L615.8,352.3 L615.8,360.0 C615.5,362.4 612.7,363.7 610.7,362.8 L598.6,355.7 Z" stroke="#1c1c1c" stroke-width="2.0" fill="#fff" />
<path d="M602.5,348.4 L611.2,352.8 L611.2,358.4 L602.5,353.9 Z" stroke="#1c1c1c" stroke-width="1.6" fill="#555" />
<path d="M598.5,344.4 C597.5,348.4 597.7,352.4 598.6,355.7" stroke="#1c1c1c" stroke-width="2.6" fill="none" />
<path d="M771.3,430.6 C771.9,425.0 774.4,422.1 778.0,422.5 L795.3,430.9 L792.0,439.8 C789.5,447.4 789.3,455.6 790.3,463.2 L774.4,454.5 C769.3,449.4 768.3,440.3 771.3,430.6 Z" stroke="#1c1c1c" stroke-width="1.9" fill="#fff" />
<path d="M771.3,430.6 L792.0,439.8" stroke="#1c1c1c" stroke-width="1.3" fill="none" />
<path d="M784.4,424.5 C783.9,418.1 780.3,412.3 779.9,404.7 C779.5,396.0 784.7,391.0 790.9,391.2 C801.0,391.7 810.1,404.7 809.2,416.2 C808.7,421.4 803.9,424.3 800.9,427.5 L799.0,452.5 L795.5,451.0 L795.8,431.1 Z" stroke="#1c1c1c" stroke-width="2.2" fill="#fff" />
<path d="M793.3,393.7 C800.5,395.1 807.2,405.1 806.6,415.2 C806.2,420.0 802.4,422.9 799.0,426.8" stroke="#1c1c1c" stroke-width="1.4" fill="none" />
<ellipse cx="792.8" cy="411.9" rx="1.9" ry="2.4" stroke="#1c1c1c" stroke-width="1.3" fill="#444"/>
<path d="M799.8,428.0 L798.4,452.5" stroke="#1c1c1c" stroke-width="3.4" fill="none" />
<path d="M794.5,431.6 L792.7,438.7" stroke="#1c1c1c" stroke-width="3.6" fill="none" />
<path d="M787.8,451.3 L805.0,459.9 L805.0,467.8 C804.7,470.2 801.8,471.6 799.8,470.7 L787.5,463.4 Z" stroke="#1c1c1c" stroke-width="2.0" fill="#fff" />
<path d="M791.4,456.0 L800.3,460.5 L800.3,466.2 L791.4,461.6 Z" stroke="#1c1c1c" stroke-width="1.6" fill="#555" />
<path d="M787.4,451.9 C786.3,456.0 786.5,460.0 787.5,463.4" stroke="#1c1c1c" stroke-width="2.6" fill="none" />
<path d="M686,609.2 L671,611.3 C667.2,612 667.4,616.6 671,616.8 L686,614.8" stroke="#1c1c1c" stroke-width="1.7" fill="#fff" />
<path d="M686.6,603.5 C684.2,605.5 684.2,608.8 686.6,610.8 L698.0,610.8 C700.4,608.8 700.4,605.5 698.0,603.5 Z" stroke="#1c1c1c" stroke-width="2.2" fill="#fff" />
<path d="M686.6,610.8 C684.2,612.8 684.2,616.0 686.6,618.0 L698.0,618.0 C700.4,616.0 700.4,612.8 698.0,610.8 Z" stroke="#1c1c1c" stroke-width="2.2" fill="#fff" />
<path d="M686.6,618.0 C684.2,620.0 684.2,623.2 686.6,625.2 L698.0,625.2 C700.4,623.2 700.4,620.0 698.0,618.0 Z" stroke="#1c1c1c" stroke-width="2.2" fill="#fff" />
<path d="M686.6,625.2 C684.2,627.2 684.2,630.5 686.6,632.5 L698.0,632.5 C700.4,630.5 700.4,627.2 698.0,625.2 Z" stroke="#1c1c1c" stroke-width="2.2" fill="#fff" />
<path d="M687.3,632.5 L690.5,639.5 L695.1,638.5 L697.8,632.5 Z" stroke="#1c1c1c" stroke-width="2.0" fill="#444" />
<path d="M740.5,602.5 C738.1,604.5 738.1,606.9 740.5,608.9 L751.9,608.9 C754.3,606.9 754.3,604.5 751.9,602.5 Z" stroke="#1c1c1c" stroke-width="2.2" fill="#fff" />
<path d="M740.5,608.9 C738.1,610.9 738.1,613.2 740.5,615.2 L751.9,615.2 C754.3,613.2 754.3,610.9 751.9,608.9 Z" stroke="#1c1c1c" stroke-width="2.2" fill="#fff" />
<path d="M740.5,615.2 C738.1,617.2 738.1,619.6 740.5,621.6 L751.9,621.6 C754.3,619.6 754.3,617.2 751.9,615.2 Z" stroke="#1c1c1c" stroke-width="2.2" fill="#fff" />
<path d="M740.5,621.6 C738.1,623.6 738.1,626.0 740.5,628.0 L751.9,628.0 C754.3,626.0 754.3,623.6 751.9,621.6 Z" stroke="#1c1c1c" stroke-width="2.2" fill="#fff" />
<path d="M741.2,628.0 L744.4,635.0 L749.0,634.0 L751.7,628.0 Z" stroke="#1c1c1c" stroke-width="2.0" fill="#444" />
<path d="M715.3,609.4 L721.4,638 L725.8,612 Z" stroke="#1c1c1c" stroke-width="1.5" fill="#fff" />
<path d="M720.2,632 L721.4,638 L722.6,632 Z" stroke="#1c1c1c" stroke-width="1.2" fill="#1c1c1c" />
<ellipse cx="705.0" cy="615.0" rx="3.9" ry="4.2" stroke="#1c1c1c" stroke-width="1.5" fill="#2a2a2a"/>
<ellipse cx="759.4" cy="609.8" rx="4.2" ry="4.5" stroke="#1c1c1c" stroke-width="1.5" fill="#2a2a2a"/>
<path d="M753.5,601.8 L777.5,598 L808,579.5 C810.5,578 812.5,581.5 810,583 L779.5,602.5 L757,606.5" stroke="#1c1c1c" stroke-width="1.5" fill="#fff" />
<line x1="777.5" y1="598.0" x2="779.5" y2="602.5" stroke="#1c1c1c" stroke-width="1.3" />
</svg>
</body></html>
